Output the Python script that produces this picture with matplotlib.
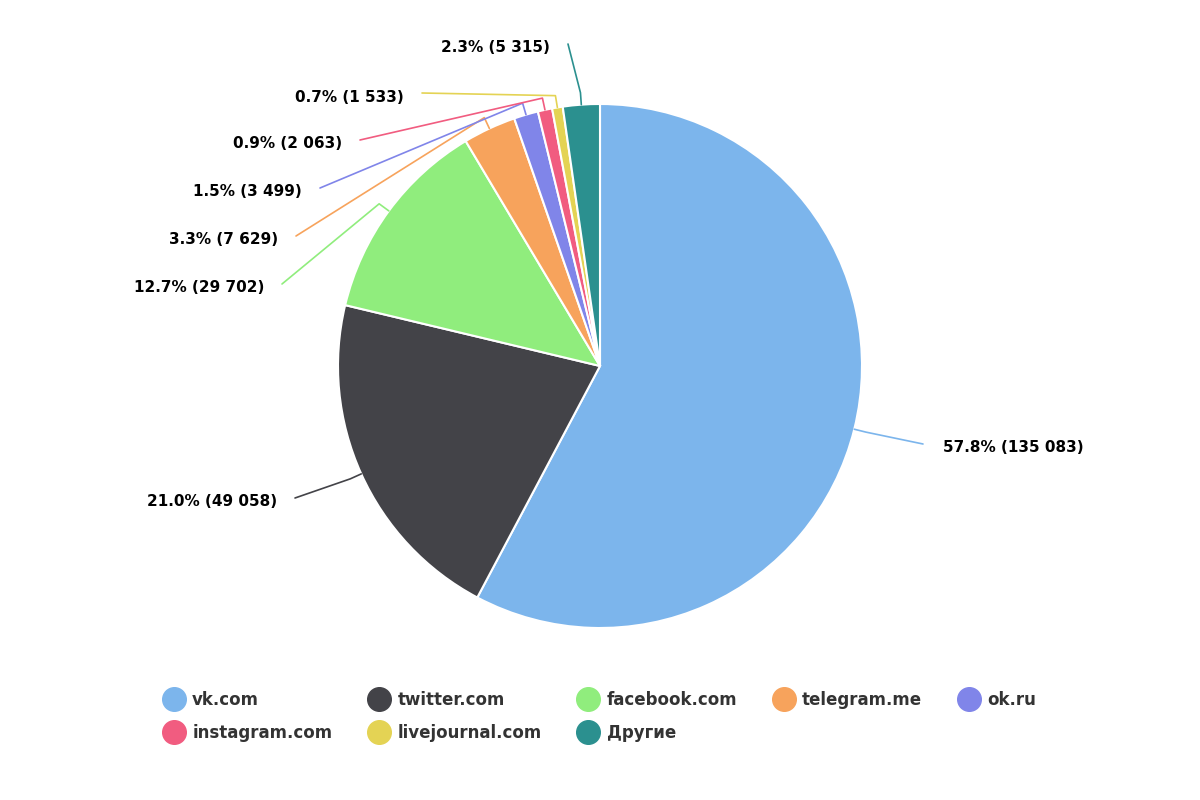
import matplotlib
matplotlib.use("Agg")
import matplotlib.pyplot as plt
import numpy as np
from matplotlib.lines import Line2D

categories = ["vk.com", "twitter.com", "facebook.com", "telegram.me", "ok.ru",
              "instagram.com", "livejournal.com", "Другие"]
values = [135083, 49058, 29702, 7629, 3499, 2063, 1533, 5315]
colors = ["#7cb5ec", "#434348", "#90ed7d", "#f7a35c", "#8085e9", "#f15c80", "#e4d354", "#2b908f"]

# label layout (pixel coords from top): (text x, text y, ha)
label_pos = [(943, 448, "left"), (277, 502, "right"), (264, 288, "right"), (278, 240, "right"),
             (302, 192, "right"), (342, 144, "right"), (404, 97, "right"), (550, 48, "right")]

fig = plt.figure(figsize=(12, 8), dpi=100)
ax = fig.add_axes([0, 0, 1, 1])

cx, cy, R = 600, 800 - 366, 262
wedges, _ = ax.pie(values, colors=colors, startangle=90, counterclock=False,
                   center=(cx, cy), radius=R, wedgeprops=dict(edgecolor="white", linewidth=1.5))
ax.set_xlim(0, 1200)
ax.set_ylim(0, 800)
ax.set_aspect("equal")
ax.axis("off")

total = sum(values)
for w, v, c, (tx, ty, ha) in zip(wedges, values, colors, label_pos):
    ang = np.deg2rad((w.theta1 + w.theta2) / 2)
    ex, ey = cx + R * np.cos(ang), cy + R * np.sin(ang)
    mx, my = cx + (R + 12) * np.cos(ang), cy + (R + 12) * np.sin(ang)
    TY = 800 - ty
    ax_end = tx - 20 if ha == "left" else tx + 18
    ax.plot([ex, mx, ax_end], [ey, my, TY + 4], color=c, lw=1.2, solid_capstyle="round")
    s = f"{v / total * 100:.1f}% ({v:,})".replace(",", " ")
    ax.text(tx, TY, s, ha=ha, va="center", fontsize=11, fontweight="bold", color="black")

handles = [Line2D([], [], marker="o", ls="", markersize=17, markerfacecolor=c, markeredgecolor=c)
           for c in colors]
blank = Line2D([], [], ls="", marker="")
order = [0, 5, 1, 6, 2, 7, 3, None, 4, None]
hs = [handles[i] if i is not None else blank for i in order]
ls = [categories[i] if i is not None else "" for i in order]
fig.legend(hs, ls, loc="upper center", bbox_to_anchor=(0.5, 0.155), ncol=5,
           frameon=False, prop=dict(size=12, weight="bold"), labelcolor="#333333",
           handletextpad=0.5, columnspacing=2.2, handlelength=1.2, labelspacing=0.9)

fig.savefig("out.png", dpi=100)
